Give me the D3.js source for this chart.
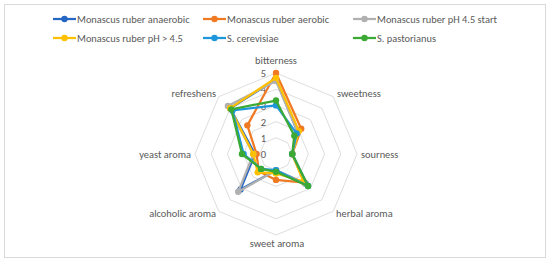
<!DOCTYPE html>
<html>
<head>
<meta charset="utf-8">
<script src="https://cdn.jsdelivr.net/npm/d3@7"></script>
<style>
  body { margin: 0; background: #fff; }
  svg { font-family: Carlito, Lato, "Open Sans", "Liberation Sans", sans-serif; }
</style>
</head>
<body>
<svg width="550" height="262"></svg>
<script>
var categories = ['bitterness', 'sweetness', 'sourness', 'herbal aroma', 'sweet aroma', 'alcoholic aroma', 'yeast aroma', 'refreshens'];
var seriesNames = ['Monascus ruber anaerobic', 'Monascus ruber aerobic', 'Monascus ruber pH 4.5 start', 'Monascus ruber pH > 4.5', 'S. cerevisiae', 'S. pastorianus'];
var seriesColors = ['#2567c4', '#f07a24', '#b0b0b0', '#ffc000', '#1e96dc', '#3baa35'];

var anaerobic  = [4.6, 1.9, 1.0, 2.6, 1.0, 3.1, 1.3, 4.0];
var aerobic    = [5.0, 2.2, 1.0, 2.5, 1.6, 1.5, 1.2, 2.5];
var phStart    = [4.5, 1.9, 1.0, 2.6, 1.0, 3.3, 1.4, 4.2];
var phAbove    = [4.7, 2.0, 1.0, 2.4, 1.2, 1.6, 1.4, 4.0];
var cerevisiae = [3.0, 1.8, 1.0, 2.8, 1.0, 1.3, 2.0, 3.8];
var pastorianus = [3.3, 1.6, 1.0, 2.8, 1.1, 1.3, 2.1, 3.9];
var seriesValues = [anaerobic, aerobic, phStart, phAbove, cerevisiae, pastorianus];
var ticks = [0, 1, 2, 3, 4, 5];

var width = 550;
var height = 262;
var cx = 276;
var cy = 154;

var svg = d3.select('svg');

// chart border
svg.append('rect')
    .attr('x', 4.5).attr('y', 4.5)
    .attr('width', width - 9).attr('height', height - 9)
    .attr('fill', 'none')
    .attr('stroke', '#d9d9d9');

var rScale = d3.scaleLinear().domain([0, 5]).range([0, 81]);
var angle = d3.scaleLinear().domain([0, categories.length]).range([0, 2 * Math.PI]);

function pt(i, v) {
    var a = angle(i);
    return [cx + rScale(v) * Math.sin(a), cy - rScale(v) * Math.cos(a)];
}

var g = svg.append('g');

// grid rings
ticks.filter(t => t > 0).forEach(t => {
    g.append('polygon')
        .attr('points', categories.map((c, i) => pt(i, t).join(',')).join(' '))
        .attr('fill', 'none')
        .attr('stroke', '#dedede')
        .attr('stroke-width', 1);
});

// tick labels
g.selectAll('text.tick')
    .data(ticks)
    .enter()
    .append('text')
      .attr('class', 'tick')
      .attr('x', cx - 10)
      .attr('y', d => cy - rScale(d))
      .attr('dy', '0.4em')
      .style('text-anchor', 'end')
      .style('font-size', '10.5px')
      .style('fill', '#595959')
      .text(d => d);

// category labels
var labelPos = [
    {x: 276, y: 60.5, anchor: 'middle'},
    {x: 337, y: 93, anchor: 'start'},
    {x: 361, y: 154, anchor: 'start'},
    {x: 336, y: 213, anchor: 'start'},
    {x: 277, y: 243, anchor: 'middle'},
    {x: 216, y: 213, anchor: 'end'},
    {x: 191, y: 154, anchor: 'end'},
    {x: 216, y: 93, anchor: 'end'}
];
g.selectAll('text.cat')
    .data(categories)
    .enter()
    .append('text')
      .attr('class', 'cat')
      .attr('x', (d, i) => labelPos[i].x)
      .attr('y', (d, i) => labelPos[i].y)
      .attr('dy', '0.35em')
      .style('text-anchor', (d, i) => labelPos[i].anchor)
      .style('font-size', '10.4px')
      .style('fill', '#595959')
      .text(d => d);

// series
var line = d3.line().curve(d3.curveLinearClosed);
seriesValues.forEach((vals, s) => {
    var pts = vals.map((v, i) => pt(i, v));
    var sg = svg.append('g');
    sg.append('path')
        .attr('d', line(pts))
        .attr('fill', 'none')
        .attr('stroke', seriesColors[s])
        .attr('stroke-width', 2.25)
        .attr('stroke-linejoin', 'round');
    sg.selectAll('circle')
        .data(pts)
        .enter()
        .append('circle')
          .attr('cx', d => d[0])
          .attr('cy', d => d[1])
          .attr('r', 3.2)
          .attr('fill', seriesColors[s]);
});

// legend
var legendX = [53, 203, 353];
var legendY = [19, 38];
var legend = svg.append('g')
  .selectAll('g')
    .data(seriesNames)
    .enter()
    .append('g')
      .attr('transform', (d, i) => `translate(${legendX[i % 3]},${legendY[Math.floor(i / 3)]})`);
legend.append('line')
    .attr('x1', 0).attr('x2', 23)
    .attr('stroke', (d, i) => seriesColors[i])
    .attr('stroke-width', 2.25);
legend.append('circle')
    .attr('cx', 11.5)
    .attr('r', 3.2)
    .attr('fill', (d, i) => seriesColors[i]);
legend.append('text')
    .attr('x', 24)
    .attr('dy', '0.35em')
    .style('font-size', '10.4px')
    .style('fill', '#595959')
    .text(d => d);
</script>
</body>
</html>
